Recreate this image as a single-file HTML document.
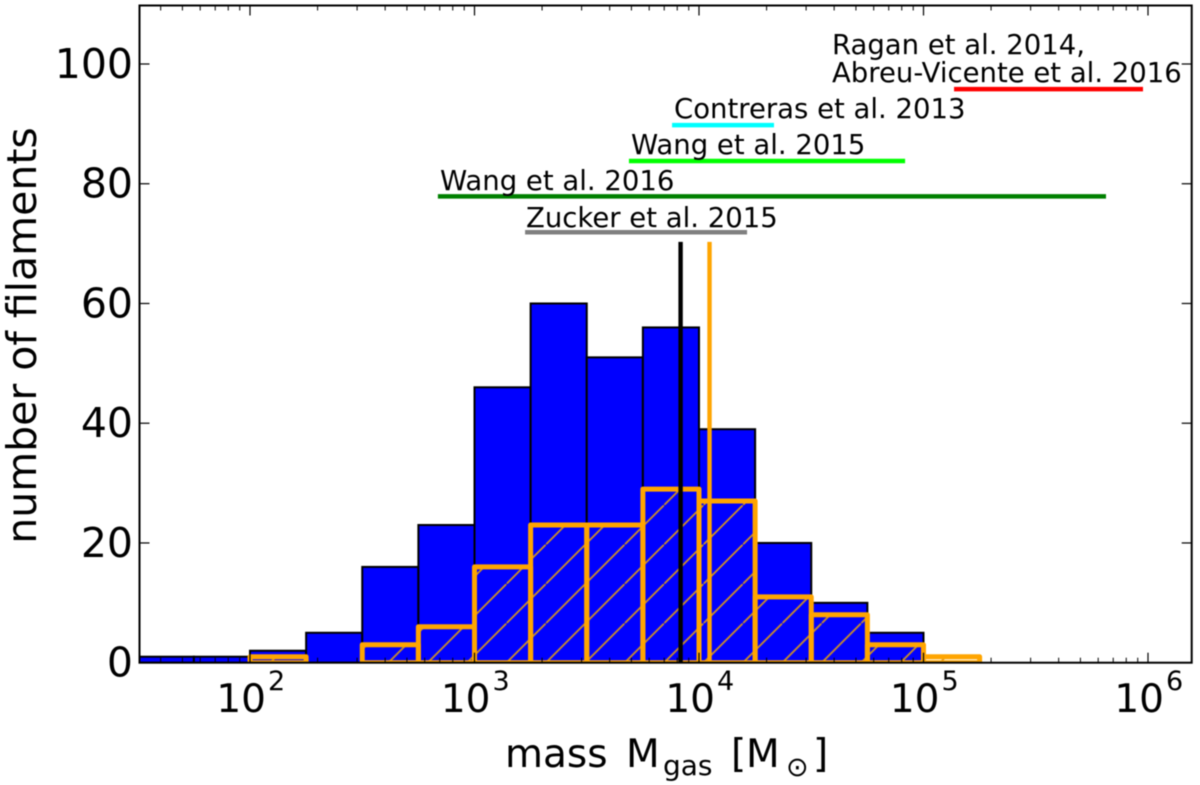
<!DOCTYPE html>
<html lang="en">
<head>
<meta charset="utf-8">
<title>Filament mass histogram</title>
<style>
html,body{margin:0;padding:0;background:#fff;}
svg{display:block;filter:blur(0.45px);}
text{font-family:"DejaVu Sans","Liberation Sans",sans-serif;fill:#000;}
</style>
</head>
<body>
<svg id="chart" xmlns="http://www.w3.org/2000/svg" width="1200" height="785" viewBox="0 0 1200 785">
  <defs>
    <clipPath id="plot-clip"><rect x="139.5" y="5.5" width="1052.2" height="657.2"></rect></clipPath>
    <pattern id="hatch" patternUnits="userSpaceOnUse" x="388.3" y="662.7" width="39.4" height="39.4">
      <line x1="-4" y1="43.4" x2="43.4" y2="-4" stroke="#cf9026" stroke-width="1.8"></line>
    </pattern>
  </defs>
  <g id="layer-blue" clip-path="url(#plot-clip)"></g>
  <g id="layer-orange" clip-path="url(#plot-clip)"></g>
  <g id="layer-lines" clip-path="url(#plot-clip)"></g>
  <g id="layer-ranges"></g>
  <g id="layer-axes"></g>
</svg>
<script>
// ---- data ----
const binStartLog = 1.5;
const binWidthLog = 0.25;
const allCounts = [1, 1, 2, 5, 16, 23, 46, 60, 51, 56, 39, 20, 10, 5];
const subsetCounts = [0, 0, 1, 0, 3, 6, 16, 23, 23, 29, 27, 11, 8, 3, 1];
const medianNames = ['median-mass-all', 'median-mass-subset'];
const medianMasses = [8280, 11140];
const medianColors = ['#000000', '#ffa500'];
const medianTop = 70.3;
const rangeNames = ['Ragan', 'Contreras', 'Wang-2015', 'Wang-2016', 'Zucker'];
const rangeLow = [136800, 7586, 4875, 687, 1680];
const rangeHigh = [950000, 21580, 82800, 650000, 16370];
const rangeLevel = [95.8, 89.8, 83.8, 77.9, 71.9];
const rangeColors = ['#ff0000', '#00ffff', '#00ff00', '#008000', '#808080'];
const yTicks = [0, 20, 40, 60, 80, 100];
const xTickExponents = [2, 3, 4, 5, 6];
const minorMultipliers = [2, 3, 4, 5, 6, 7, 8, 9];
const minorDecades = [1, 2, 3, 4, 5, 6];

// ---- axis functions ----
const left = 139.5, right = 1191.7, top_ = 5.5, bottom = 662.7;
const xOfLog = l => 250 + (l - 2) * 224.5;
const xOf = m => xOfLog(Math.log10(m));
const yOf = v => bottom - v * 5.987;
const NS = 'http://www.w3.org/2000/svg';
function mk(parent, tag, props) {
  const el = document.createElementNS(NS, tag);
  for (const k in props) el.setAttribute(k, props[k]);
  parent.appendChild(el);
  return el;
}
const blue = document.getElementById('layer-blue');
const orange = document.getElementById('layer-orange');
const lines = document.getElementById('layer-lines');
const ranges = document.getElementById('layer-ranges');
const axes = document.getElementById('layer-axes');

// blue histogram
allCounts.forEach((c, i) => {
  const x0 = xOfLog(binStartLog + i * binWidthLog), x1 = xOfLog(binStartLog + (i + 1) * binWidthLog);
  const r = mk(blue, 'rect', {x: x0, y: yOf(c), width: x1 - x0, height: bottom - yOf(c), fill: '#0000ff', stroke: '#000', 'stroke-width': 2});
  
  
});
// orange hatched histogram
subsetCounts.forEach((c, i) => {
  const x0 = xOfLog(binStartLog + i * binWidthLog), x1 = xOfLog(binStartLog + (i + 1) * binWidthLog);
  const r = mk(orange, 'rect', {x: x0, y: yOf(c), width: x1 - x0, height: bottom - yOf(c), fill: 'url(#hatch)', stroke: '#ffa500', 'stroke-width': 5, 'stroke-linejoin': 'round'});
  
  
});
// median vertical lines
medianMasses.forEach((m, i) => {
  const l = mk(lines, 'line', {x1: xOf(m), x2: xOf(m), y1: yOf(medianTop), y2: bottom, stroke: medianColors[i], 'stroke-width': 4.4});
  
  
});
// literature range bars
rangeLow.forEach((lo, i) => {
  const l = mk(ranges, 'line', {x1: xOf(lo), x2: xOf(rangeHigh[i]), y1: yOf(rangeLevel[i]), y2: yOf(rangeLevel[i]), stroke: rangeColors[i], 'stroke-width': 4.5});
  
  
});
// annotation labels
const noteText = ['Ragan et al. 2014,', 'Abreu-Vicente et al. 2016', 'Contreras et al. 2013', 'Wang et al. 2015', 'Wang et al. 2016', 'Zucker et al. 2015'];
const noteX = [832, 832, 674, 631, 440, 526];
const noteY = [54, 82, 118, 154, 190, 227];
noteText.forEach((s, i) => {
  const t = mk(ranges, 'text', {x: noteX[i], y: noteY[i], 'font-size': 27.5});
  t.textContent = s;
  
  
});
// spines
const frame = mk(axes, 'rect', {x: left, y: top_, width: right - left, height: bottom - top_, fill: 'none', stroke: '#000', 'stroke-width': 2});


// y ticks
yTicks.forEach(v => {
  [[left, left + 10], [right, right - 10]].forEach(p => {
    const t = mk(axes, 'line', {x1: p[0], x2: p[1], y1: yOf(v), y2: yOf(v), stroke: '#000', 'stroke-width': 1.2});
    
    
  });
  const lab = mk(axes, 'text', {x: 133, y: yOf(v) + 14, 'font-size': 41, 'text-anchor': 'end'});
  lab.textContent = v;
  
  
});
// x major ticks and labels
xTickExponents.forEach(e => {
  const x = xOfLog(e);
  [[bottom, bottom - 10], [top_, top_ + 10]].forEach(p => {
    const t = mk(axes, 'line', {x1: x, x2: x, y1: p[0], y2: p[1], stroke: '#000', 'stroke-width': 1.2});
    
    
  });
  const ten = mk(axes, 'text', {x: x + 16, y: 712, 'font-size': 39, 'text-anchor': 'end'});
  ten.textContent = '10';
  
  
  const sup = mk(axes, 'text', {x: x + 18, y: 690, 'font-size': 27});
  sup.textContent = e;
  
  
});
// x minor ticks
minorDecades.forEach(d => {
  minorMultipliers.forEach(m => {
    const x = xOfLog(d + Math.log10(m));
    if (x <= left || x >= right) return;
    [[bottom, bottom - 5], [top_, top_ + 5]].forEach(p => {
      const t = mk(axes, 'line', {x1: x, x2: x, y1: p[0], y2: p[1], stroke: '#000', 'stroke-width': 1});
      
      
    });
  });
});
// axis titles
const yTitle = mk(axes, 'text', {x: 0, y: 0, 'font-size': 41, 'text-anchor': 'middle', transform: 'translate(36 335.5) rotate(-90)'});
yTitle.textContent = 'number of filaments';


const xTitle = mk(axes, 'text', {x: 505, y: 767, 'font-size': 39});


const titleParts = ['mass', 'M', 'gas', '[', 'M', '\u2299', ']'];
const titleSizes = [39, 39, 28, 39, 39, 27, 39];
const titleX = [505, 626, 663, 731, 746, 786, 813];
const titleY = [767, 767, 775, 767, 767, 776, 767];
titleParts.forEach((s, i) => {
  const p = mk(xTitle, 'tspan', {x: titleX[i], y: titleY[i], 'font-size': titleSizes[i]});
  p.textContent = s;
});
</script>
</body>
</html>
